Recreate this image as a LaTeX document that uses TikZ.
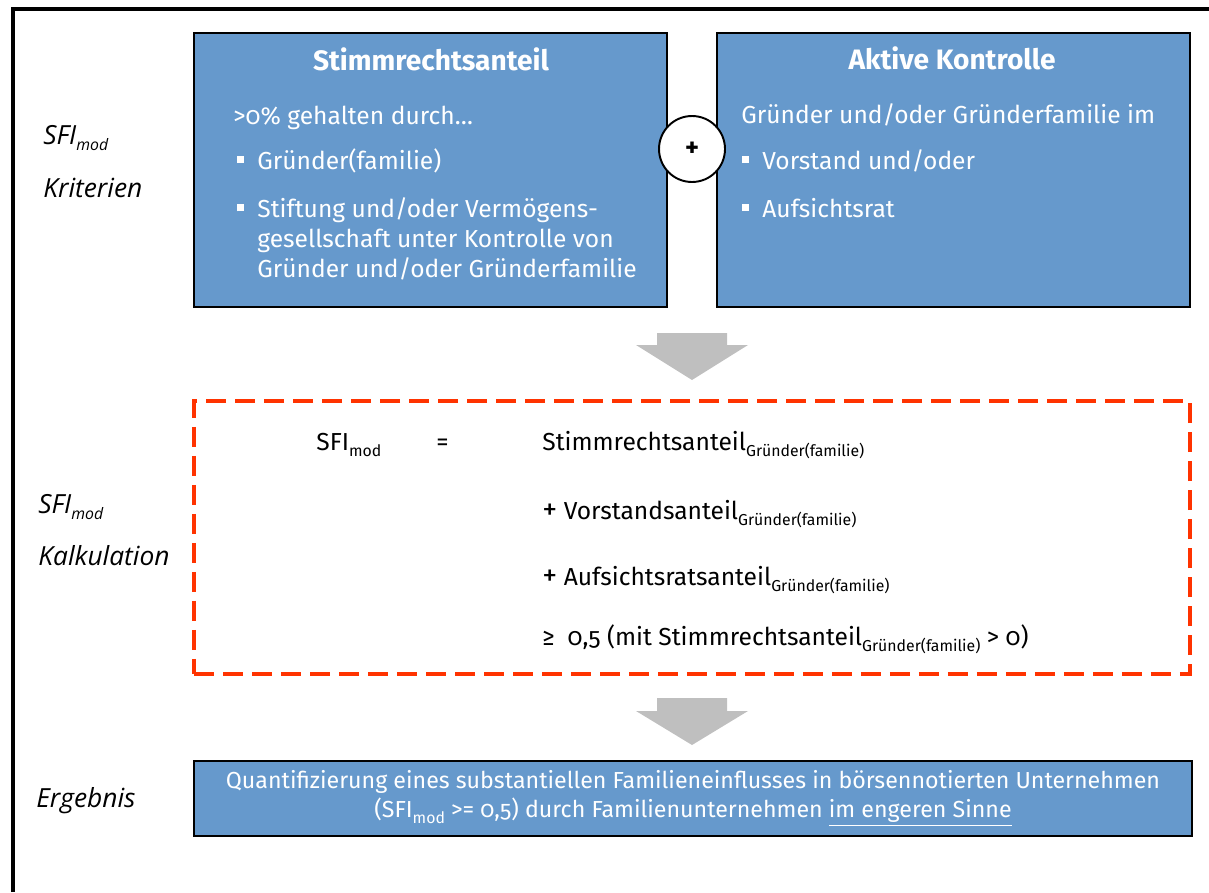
\documentclass[tikz,border=0pt]{standalone}
\usepackage{fontspec}
\setmainfont{Fira Sans}[Numbers=OldStyle]
\newfontfamily\etikett{Open Sans}
\definecolor{blau}{RGB}{102,153,204}
\definecolor{rot}{RGB}{255,51,0}
\definecolor{grau}{RGB}{191,191,191}
\newcommand{\idx}[1]{\raisebox{-3.5pt}{\fontsize{9}{9}\selectfont #1}}
\newcommand{\punkt}{\llap{\raisebox{3.4pt}{\rule{4pt}{4pt}}\hspace{7.4pt}}}

\begin{document}
\begin{tikzpicture}[x=0.02cm,y=-0.02cm]
\tikzset{kasten/.style={draw=black, line width=1.1pt, fill=blau, minimum width=9.46cm, minimum height=5.48cm, inner sep=0pt},
  kopf/.style={anchor=base, inner sep=0pt, text=white, font=\fontsize{16}{19}\selectfont\bfseries},
  weiss/.style={anchor=base west, inner sep=0pt, text=white, align=left, font=\fontsize{14}{17}\selectfont},
  formel/.style={anchor=base west, inner sep=0pt, font=\fontsize{14}{17}\selectfont},
  etikett/.style={anchor=base west, inner sep=0pt, font=\etikett\itshape\fontsize{15}{18}\selectfont}}
\useasboundingbox (0,0) rectangle (1209,892);
\draw[line width=2.3pt] (13,892) -- (13,9) -- (1209,9);
\node[etikett] (sfi1) at (43,144) {SFI\idx{mod}};
\node[etikett] (krit) at (43,197) {Kriterien};
\node[etikett] (sfi2) at (38,513) {SFI\idx{mod}};
\node[etikett] (kalk) at (38,565) {Kalkulation};
\node[etikett] (erg) at (36,807) {Ergebnis};
\node[kasten] (stimm) at (430.5,170) {};
\node[kasten] (kontr) at (953.5,170) {};
\node[circle, draw, line width=1.1pt, fill=white, minimum size=1.32cm, inner sep=0pt, font=\fontsize{15}{15}\selectfont\bfseries] (plus) at (692,149) {+};
\node[kopf] (k1) at (431,71) {Stimmrechtsanteil};
\node[weiss] (s1) at (233,124) {>0\% gehalten durch…};
\node[weiss] (s2) at (257,169) {\punkt Gründer(familie)};
\node[weiss] (s3) at (257,277) {\punkt Stiftung und/oder Vermögens-\\gesellschaft unter Kontrolle von\\Gründer und/oder Gründerfamilie};
\node[kopf] (k2) at (952,70) {Aktive Kontrolle};
\node[weiss] (a1) at (741,123) {Gründer und/oder Gründerfamilie im};
\node[weiss] (a2) at (762,169) {\punkt Vorstand und/oder};
\node[weiss] (a3) at (762,217) {\punkt Aufsichtsrat};
\fill[grau] (657,333) -- (727,333) -- (727,345) -- (748,345) -- (692,380) -- (636,345) -- (657,345) -- cycle;
\node[draw=rot, line width=2.3pt, dash pattern=on 0.4cm off 0.18cm, minimum width=19.92cm, minimum height=5.46cm, inner sep=0pt] (kalkbox) at (692,537.5) {};
\node[formel] (f1) at (316,450) {SFI\idx{mod}};
\node[formel] (f2) at (436,450) {=};
\node[formel] (f3) at (542,450) {Stimmrechtsanteil\idx{Gründer(familie)}};
\node[formel] (f4) at (542,519) {{\fontsize{17}{17}\selectfont +} Vorstandsanteil\idx{Gründer(familie)}};
\node[formel] (f5) at (542,585) {{\fontsize{17}{17}\selectfont +} Aufsichtsratsanteil\idx{Gründer(familie)}};
\node[formel] (f6) at (542,645) {≥\ \ 0,5 (mit Stimmrechtsanteil\idx{Gründer(familie)} > 0)};
\fill[grau] (657,698) -- (727,698) -- (727,711) -- (748,711) -- (692,745) -- (636,711) -- (657,711) -- cycle;
\node[kasten, minimum width=19.96cm, minimum height=1.5cm, align=center, text=white, font=\fontsize{13.2}{16.5}\selectfont] (ergbox) at (693,798.5) {Quantifizierung eines substantiellen Familieneinflusses in börsennotierten Unternehmen\\(SFI\idx{mod} >= 0,5) durch Familienunternehmen \underline{im engeren Sinne}};
\end{tikzpicture}
\end{document}
